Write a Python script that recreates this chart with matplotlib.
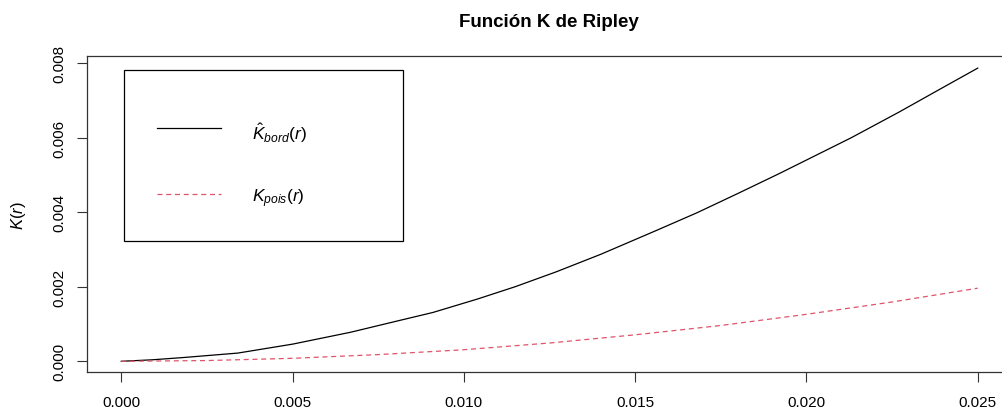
#!/usr/bin/env python3
"""Ripley's K function: border-corrected estimate vs Poisson reference."""

import matplotlib
matplotlib.use('Agg')
import matplotlib.pyplot as plt
from matplotlib.patches import Rectangle
from matplotlib.lines import Line2D

plt.rcParams['font.family'] = ['Liberation Sans', 'DejaVu Sans']
plt.rcParams['mathtext.fontset'] = 'custom'
plt.rcParams['mathtext.rm'] = 'Liberation Sans'
plt.rcParams['mathtext.it'] = 'Liberation Sans:italic'

# values
r_bord = [0.0, 0.0009, 0.0018, 0.0034, 0.0050, 0.0067, 0.0081, 0.0091,
          0.0104, 0.0115, 0.0127, 0.0140, 0.0156, 0.0168, 0.0180, 0.0192,
          0.0213, 0.0227, 0.0241, 0.0250]
k_bord = [0.0, 0.00004, 0.00010, 0.00022, 0.00046, 0.00078, 0.00109, 0.00131,
          0.00167, 0.00200, 0.00240, 0.00287, 0.00350, 0.00398, 0.00450,
          0.00503, 0.00599, 0.00668, 0.00740, 0.00786]

r_pois = [0.0, 0.0025, 0.0050, 0.0075, 0.0100, 0.0125, 0.0150, 0.0175,
          0.0200, 0.0225, 0.0250]
k_pois = [0.0, 0.00002, 0.00008, 0.00018, 0.00031, 0.00049, 0.00071, 0.00096,
          0.00126, 0.00159, 0.00196]

x_ticks = [0.000, 0.005, 0.010, 0.015, 0.020, 0.025]
y_ticks = [0.000, 0.002, 0.004, 0.006, 0.008]

RED = '#DF536B'
W, H = 1003, 414

fig = plt.figure(figsize=(W / 100, H / 100), dpi=100)
# plot region in pixels: left 87, right 1012 (cut off), top 57.3, bottom 373.3
ax = fig.add_axes([87 / W, 1 - 373.3 / H, 925 / W, 316 / H])

ax.plot(r_bord, k_bord, color='black', lw=0.9)
ax.plot(r_pois, k_pois, color=RED, lw=0.9, ls=(0, (4, 3)))

ax.set_xlim(-0.001, 0.026)
ax.set_ylim(-0.000295, 0.008177)
ax.set_xticks(x_ticks)
ax.set_xticklabels([f'{v:.3f}' for v in x_ticks])
ax.set_yticks(y_ticks)
ax.set_yticklabels([f'{v:.3f}' for v in y_ticks], rotation=90, va='center')
ax.tick_params(labelsize=11, length=7, width=0.8, color='#333333')
ax.tick_params(axis='x', pad=9)
ax.tick_params(axis='y', pad=8)
for s in ax.spines.values():
    s.set_linewidth(0.9)
    s.set_color('#333333')

fig.text(548.5 / W, 1 - 27.3 / H, 'Función K de Ripley', ha='center',
         va='baseline', fontsize=13.5, fontweight='bold')
fig.text(18.5 / W, 1 - 215.3 / H, r'$K(r)$', rotation=90, ha='center',
         va='center', fontsize=12)


# legend drawn by hand to match the base-R box
def px(x, y):
    return ((x - 87) / 925, (373.3 - y) / 316)


x0, y0 = px(124.3, 241.7)
x1, y1 = px(402.7, 70.7)
ax.add_patch(Rectangle((x0, y0), x1 - x0, y1 - y0, transform=ax.transAxes,
                       fill=False, lw=0.9, ec='black'))
for yy, col, ls in [(129.3, 'black', '-'), (195, RED, (0, (4, 3)))]:
    (a, b), (c, _) = px(156.7, yy), px(220.7, yy)
    ax.add_line(Line2D([a, c], [b, b], transform=ax.transAxes, color=col,
                       lw=0.9, ls=ls))
for yy, lab in [(140, r'$\hat{K}_{bord}(r)$'), (202.5, r'$K_{pois}(r)$')]:
    tx, ty = px(251.7, yy)
    ax.text(tx, ty, lab, transform=ax.transAxes, fontsize=12.5,
            va='baseline', ha='left')

fig.savefig('out.png', dpi=100)
